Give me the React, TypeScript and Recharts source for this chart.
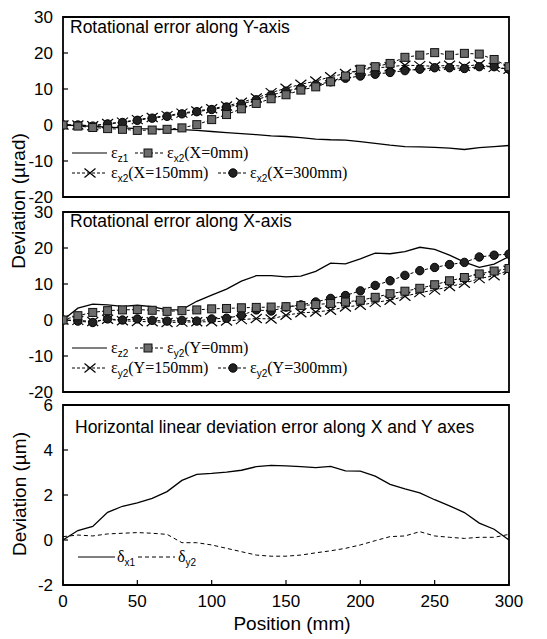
import React from 'react';
import { LineChart, Line, XAxis, YAxis, ReferenceArea, Legend } from 'recharts';

const positions = [0, 10, 20, 30, 40, 50, 60, 70, 80, 90, 100, 110, 120, 130, 140, 150, 160, 170, 180, 190, 200, 210, 220, 230, 240, 250, 260, 270, 280, 290, 300];

// Panel 1: rotational error along Y-axis (µrad)
const ez1 = [0, -0.2, -0.4, -0.6, -0.8, -1.0, -1.1, -1.2, -1.3, -1.5, -1.8, -2.1, -2.4, -2.7, -3.0, -3.2, -3.5, -3.9, -4.1, -4.2, -4.6, -5.1, -5.6, -6.0, -6.1, -6.2, -6.4, -6.8, -6.3, -6.0, -5.7];
const ex2X0 = [0, -0.3, -0.7, -1.0, -1.2, -1.5, -1.4, -1.2, -0.8, 0.1, 1.5, 2.9, 4.5, 6.0, 7.3, 8.4, 9.7, 10.6, 12.0, 13.6, 15.5, 16.2, 17.1, 18.8, 19.4, 20.1, 19.4, 19.9, 19.7, 18.2, 16.2];
const ex2X150 = [0, 0, -0.2, 0.4, 0.8, 1.5, 2.1, 2.6, 3.3, 3.9, 4.5, 5.3, 6.3, 7.5, 9.0, 10.2, 11.3, 12.2, 13.4, 14.3, 15.3, 15.8, 16.2, 16.6, 16.5, 16.3, 16.6, 16.3, 16.8, 16.0, 15.5];
const ex2X300 = [0, 0, -0.3, 0.3, 0.7, 1.3, 1.9, 2.4, 3.1, 3.7, 4.3, 5.0, 5.8, 7.0, 8.3, 9.4, 10.3, 11.2, 12.0, 13.0, 13.6, 14.1, 14.6, 15.1, 15.5, 15.9, 15.9, 15.7, 16.2, 16.2, 15.5];

// Panel 2: rotational error along X-axis (µrad)
const ez2 = [0, 3.3, 4.4, 4.2, 3.8, 4.1, 3.7, 2.8, 2.9, 5.2, 6.9, 8.6, 10.8, 12.3, 12.3, 12.0, 12.2, 13.5, 15.8, 15.6, 17.0, 18.6, 18.4, 19.0, 20.2, 19.6, 18.0, 16.1, 14.6, 15.5, 17.6];
const ey2Y0 = [0, 1.2, 2.1, 2.6, 2.8, 2.9, 2.7, 2.4, 2.6, 2.8, 3.1, 3.2, 3.4, 3.5, 3.6, 3.7, 4.0, 4.3, 4.6, 5.0, 5.5, 6.3, 7.3, 8.0, 8.8, 9.8, 10.9, 11.8, 12.8, 13.6, 14.3];
const ey2Y150 = [0, -0.1, -0.4, 0.2, -0.2, -0.4, -0.5, -0.7, -0.6, -0.5, -0.5, -0.3, 0.1, 0.4, 0.3, 1.3, 2.0, 2.2, 2.7, 3.6, 4.1, 4.9, 5.5, 6.6, 7.6, 8.3, 9.3, 10.2, 11.5, 12.3, 13.8];
const ey2Y300 = [0, -0.3, -0.7, 0.3, 0.0, 0.3, -0.1, -0.3, -0.1, -0.3, 0.3, 0.5, 1.3, 2.8, 2.5, 3.6, 4.2, 5.0, 6.0, 6.8, 8.1, 9.6, 10.9, 12.4, 13.7, 14.6, 15.4, 16.0, 17.5, 18.0, 18.3];

// Panel 3: horizontal linear deviation (µm)
const dx1 = [0, 0.42, 0.6, 1.23, 1.5, 1.65, 1.85, 2.15, 2.65, 2.92, 2.96, 3.02, 3.1, 3.26, 3.32, 3.29, 3.26, 3.22, 3.27, 3.07, 3.06, 2.84, 2.47, 2.27, 2.09, 1.79, 1.52, 1.22, 0.75, 0.48, 0];
const dy2 = [0.15, 0.22, 0.18, 0.27, 0.3, 0.33, 0.3, 0.25, -0.12, -0.12, -0.22, -0.37, -0.52, -0.67, -0.72, -0.72, -0.67, -0.57, -0.48, -0.37, -0.22, -0.03, 0.15, 0.18, 0.37, 0.18, 0.12, 0.07, 0.12, 0.12, 0.25];

const xTicks = [0, 50, 100, 150, 200, 250, 300];
const yTicksRot = [-20, -10, 0, 10, 20, 30];
const yTicksLin = [-2, 0, 2, 4, 6];

const titles = [
  'Rotational error along Y-axis',
  'Rotational error along X-axis',
  'Horizontal linear deviation error along X and Y axes',
];
const yLabelRot = 'Deviation (\u00b5rad)';
const yLabelLin = 'Deviation (\u00b5m)';
const xLabel = 'Position (mm)';

const rows1 = positions.map((p, i) => ({ pos: p, a: ez1[i], b: ex2X0[i], c: ex2X150[i], d: ex2X300[i] }));
const rows2 = positions.map((p, i) => ({ pos: p, a: ez2[i], b: ey2Y0[i], c: ey2Y150[i], d: ey2Y300[i] }));
const rows3 = positions.map((p, i) => ({ pos: p, a: dx1[i], b: dy2[i] }));

const SANS = "Arial, 'Liberation Sans', Helvetica, sans-serif";
const SERIF = "'Times New Roman', 'Liberation Serif', Times, serif";
const W = 547;
const MARGIN_L = 63;
const MARGIN_R = 38;

const SquareDot = (props: any) => {
  const { cx, cy, index } = props;
  if (cx == null || cy == null) return <g key={`sq-${index}`} />;
  return <rect key={`sq-${index}`} x={cx - 4} y={cy - 4} width={8} height={8} fill="#6b6b6b" stroke="#111" strokeWidth={1} />;
};
const CircleDot = (props: any) => {
  const { cx, cy, index } = props;
  if (cx == null || cy == null) return <g key={`ci-${index}`} />;
  return <circle key={`ci-${index}`} cx={cx} cy={cy} r={4.2} fill="#222" stroke="#000" strokeWidth={1} />;
};
const CrossDot = (props: any) => {
  const { cx, cy, index } = props;
  if (cx == null || cy == null) return <g key={`cr-${index}`} />;
  return (
    <path key={`cr-${index}`} d={`M${cx - 5.5},${cy - 4.5}L${cx + 5.5},${cy + 4.5}M${cx - 5.5},${cy + 4.5}L${cx + 5.5},${cy - 4.5}`} stroke="#000" strokeWidth={1.2} fill="none" />
  );
};

const Sub = ({ x, y, main, sub, rest }: { x: number; y: number; main: string; sub: string; rest?: string }) => (
  <text x={x} y={y} fontFamily={SERIF} fontSize={16} fill="#000">
    {main}
    <tspan dy={4} fontSize={10} fontFamily={SANS}>{sub}</tspan>
    {rest ? <tspan dy={-4} fontSize={16} fontFamily={SERIF}>{rest}</tspan> : null}
  </text>
);

const RotLegend = ({ sym, names }: { sym: string; names: string[][] }) => (
  <svg width={300} height={50} style={{ overflow: 'visible', display: 'block' }}>
    <line x1={12} x2={47} y1={13} y2={13} stroke="#000" strokeWidth={1.2} />
    <Sub x={51} y={18} main={'\u03b5'} sub={names[0][0]} />
    <line x1={75} x2={103} y1={13} y2={13} stroke="#000" strokeWidth={1} strokeDasharray="3 2" />
    <rect x={84} y={9} width={8} height={8} fill="#6b6b6b" stroke="#111" />
    <Sub x={107} y={18} main={'\u03b5'} sub={names[1][0]} rest={names[1][1]} />
    <line x1={12} x2={47} y1={33} y2={33} stroke="#000" strokeWidth={1} strokeDasharray="3 2" />
    <path d="M24.5,28.5L35.5,37.5M24.5,37.5L35.5,28.5" stroke="#000" strokeWidth={1.2} />
    <Sub x={51} y={38} main={'\u03b5'} sub={names[2][0]} rest={names[2][1]} />
    <line x1={158} x2={188} y1={33} y2={33} stroke="#000" strokeWidth={1} strokeDasharray="3 2" />
    <circle cx={173} cy={33} r={4.2} fill="#222" stroke="#000" />
    <Sub x={190} y={38} main={'\u03b5'} sub={names[3][0]} rest={names[3][1]} />
  </svg>
);

const LinLegend = () => (
  <svg width={200} height={40} style={{ overflow: 'visible', display: 'block' }}>
    <line x1={18} x2={55} y1={17} y2={17} stroke="#000" strokeWidth={1.2} />
    <Sub x={57} y={22} main={'\u03b4'} sub="x1" />
    <line x1={78} x2={115} y1={17} y2={17} stroke="#000" strokeWidth={1} strokeDasharray="4 3" />
    <Sub x={118} y={22} main={'\u03b4'} sub="y2" />
  </svg>
);

const legend1 = [['z1', ''], ['x2', '(X=0mm)'], ['x2', '(X=150mm)'], ['x2', '(X=300mm)']];
const legend2 = [['z2', ''], ['y2', '(Y=0mm)'], ['y2', '(Y=150mm)'], ['y2', '(Y=300mm)']];

const tickStyle = { fill: '#000', fontSize: 17, fontFamily: SANS };

const RotPanel = ({ rows, legend, top }: { rows: any[]; legend: string[][]; top: number }) => (
  <div style={{ position: 'absolute', left: 0, top }}>
    <LineChart width={W} height={210} data={rows} margin={{ top: 17, right: MARGIN_R, bottom: 13, left: 0 }}>
      <XAxis dataKey="pos" type="number" domain={[0, 300]} ticks={xTicks} tick={false} tickSize={-5} height={0} axisLine={false} tickLine={{ stroke: '#000', strokeWidth: 1.2 }} allowDataOverflow />
      <YAxis type="number" domain={[-20, 30]} ticks={yTicksRot} interval={0} width={MARGIN_L} tickSize={-5} tickMargin={15} axisLine={false} tick={tickStyle} tickLine={{ stroke: '#000', strokeWidth: 1.2 }} allowDataOverflow />
      <ReferenceArea x1={0} x2={300} y1={-20} y2={30} fill="none" stroke="#000" strokeWidth={1.8} />
      <Line dataKey="a" type="linear" stroke="#000" strokeWidth={1.3} dot={false} activeDot={false} isAnimationActive={false} />
      <Line dataKey="c" type="linear" stroke="#000" strokeWidth={1} strokeDasharray="3 2" dot={CrossDot} activeDot={false} isAnimationActive={false} />
      <Line dataKey="d" type="linear" stroke="#000" strokeWidth={1} strokeDasharray="3 2" dot={CircleDot} activeDot={false} isAnimationActive={false} />
      <Line dataKey="b" type="linear" stroke="#000" strokeWidth={1} strokeDasharray="3 2" dot={SquareDot} activeDot={false} isAnimationActive={false} />
      <Legend layout="vertical" verticalAlign="middle" align="center" wrapperStyle={{ left: 60, top: 140, width: 300, height: 50 }} content={() => <RotLegend sym="e" names={legend} />} />
    </LineChart>
  </div>
);

export default function App() {
  return (
    <div style={{ position: 'absolute', left: 0, top: 0, width: W, height: 639, background: '#fff', overflow: 'hidden' }}>
      <RotPanel rows={rows1} legend={legend1} top={0} />
      <RotPanel rows={rows2} legend={legend2} top={195} />
      <div style={{ position: 'absolute', left: 0, top: 390 }}>
        <LineChart width={W} height={249} data={rows3} margin={{ top: 15, right: MARGIN_R, bottom: 0, left: 0 }}>
          <XAxis dataKey="pos" type="number" domain={[0, 300]} ticks={xTicks} interval={0} tickSize={-5} tickMargin={15} height={54} axisLine={false} tick={tickStyle} tickLine={{ stroke: '#000', strokeWidth: 1.2 }} allowDataOverflow />
          <YAxis type="number" domain={[-2, 6]} ticks={yTicksLin} interval={0} width={MARGIN_L} tickSize={-5} tickMargin={15} axisLine={false} tick={tickStyle} tickLine={{ stroke: '#000', strokeWidth: 1.2 }} allowDataOverflow />
          <ReferenceArea x1={0} x2={300} y1={-2} y2={6} fill="none" stroke="#000" strokeWidth={1.8} />
          <Line dataKey="a" type="linear" stroke="#000" strokeWidth={1.3} dot={false} activeDot={false} isAnimationActive={false} />
          <Line dataKey="b" type="linear" stroke="#000" strokeWidth={1} strokeDasharray="4 3" dot={false} activeDot={false} isAnimationActive={false} />
          <Legend layout="vertical" verticalAlign="middle" align="center" wrapperStyle={{ left: 60, top: 150, width: 200, height: 40 }} content={() => <LinLegend />} />
        </LineChart>
      </div>
      <svg width={W} height={639} style={{ position: 'absolute', left: 0, top: 0, pointerEvents: 'none' }}>
        <text x={70} y={33} fontFamily={SANS} fontSize={17.5} fill="#000">{titles[0]}</text>
        <text x={70} y={227} fontFamily={SANS} fontSize={17.5} fill="#000">{titles[1]}</text>
        <text x={75} y={433} fontFamily={SANS} fontSize={17.5} fill="#000">{titles[2]}</text>
        <text x={25} y={201} transform="rotate(-90 25 201)" textAnchor="middle" fontFamily={SANS} fontSize={19} fill="#000">{yLabelRot}</text>
        <text x={26} y={494} transform="rotate(-90 26 494)" textAnchor="middle" fontFamily={SANS} fontSize={19} fill="#000">{yLabelLin}</text>
        <text x={292} y={630} textAnchor="middle" fontFamily={SANS} fontSize={19} fill="#000">{xLabel}</text>
      </svg>
    </div>
  );
}
